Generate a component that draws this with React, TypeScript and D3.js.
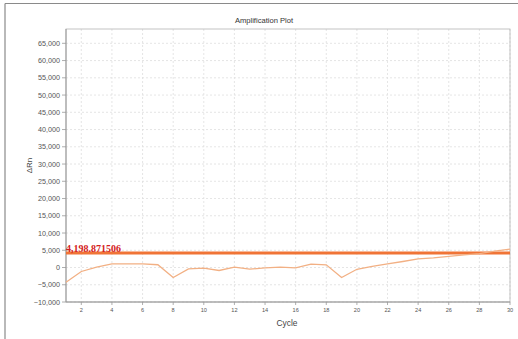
import React from 'react'
import * as d3 from 'd3'

// cycle numbers and ΔRn values
const cycles = [1, 2, 3, 4, 5, 6, 7, 8, 9, 10, 11, 12, 13, 14, 15, 16, 17, 18, 19, 20, 21, 22, 23, 24, 25, 26, 27, 28, 29, 30]
const deltaRn = [-4300, -1150, 100, 1050, 1050, 1050, 800, -2900, -400, -170, -870, 100, -480, -100, 100, -100, 970, 780, -2900, -520, 300, 1070, 1740, 2500, 2800, 3200, 3680, 4050, 4750, 5330]
const threshold = 4198.871506
const yTicks = [-10000, -5000, 0, 5000, 10000, 15000, 20000, 25000, 30000, 35000, 40000, 45000, 50000, 55000, 60000, 65000]
const xTicks = [2, 4, 6, 8, 10, 12, 14, 16, 18, 20, 22, 24, 26, 28, 30]

const W = 518
const H = 339
const margin = { left: 66, top: 29, right: 8, bottom: 37 }

const App: React.FC = () => {
  const x = d3.scaleLinear().domain([1, 30]).range([margin.left, W - margin.right])
  const y = d3.scaleLinear().domain([-10000, 69150]).range([H - margin.bottom, margin.top])
  const fmt = d3.format(',')

  const line = d3.line<number>()
    .x((_, i) => x(cycles[i]))
    .y(d => y(d))

  const x0 = x.range()[0], x1 = x.range()[1]
  const yb = y.range()[0], yt = y.range()[1]

  return (
    <svg width={W} height={H} style={{ position: 'absolute', left: 0, top: 0, background: '#fff' }}
      fontFamily="'Liberation Sans', Arial, sans-serif">
      {/* outer panel border */}
      <line x1={5} x2={W} y1={3.5} y2={3.5} stroke="#8a8a8a" strokeWidth={1.2} />
      <line x1={5} x2={5} y1={3.5} y2={H} stroke="#8a8a8a" strokeWidth={1.2} />

      <text x={264} y={23} textAnchor="middle" fontSize={7.6} fill="#333">Amplification Plot</text>

      {/* grid */}
      {yTicks.map(t => (
        <line key={'gy' + t} x1={x0} x2={x1} y1={y(t)} y2={y(t)} stroke="#dedede" strokeWidth={0.8} strokeDasharray="2,2" />
      ))}
      {xTicks.map(t => (
        <line key={'gx' + t} x1={x(t)} x2={x(t)} y1={yt} y2={yb} stroke="#dedede" strokeWidth={0.8} strokeDasharray="2,2" />
      ))}

      {/* frame */}
      <rect x={x0} y={yt} width={x1 - x0} height={yb - yt} fill="none" stroke="#b5b5b5" strokeWidth={0.8} />
      <line x1={x0} x2={x0} y1={yt} y2={yb} stroke="#999" strokeWidth={1} />
      <line x1={x0} x2={x1} y1={yb} y2={yb} stroke="#999" strokeWidth={1} />

      {/* y ticks */}
      {yTicks.map(t => (
        <g key={'ty' + t}>
          <line x1={x0 - 4} x2={x0} y1={y(t)} y2={y(t)} stroke="#999" strokeWidth={0.8} />
          <text x={x0 - 6} y={y(t)} dy="0.35em" textAnchor="end" fontSize={7.2} fill="#555">{fmt(t)}</text>
        </g>
      ))}
      {/* x ticks */}
      {xTicks.map(t => (
        <g key={'tx' + t}>
          <line x1={x(t)} x2={x(t)} y1={yb} y2={yb + 3} stroke="#999" strokeWidth={0.8} />
          <text x={x(t)} y={yb + 10} textAnchor="middle" fontSize={5.6} fill="#555">{t}</text>
        </g>
      ))}

      <text x={287} y={325.5} textAnchor="middle" fontSize={8.4} fill="#444">Cycle</text>
      <text transform={`translate(32, ${(yt + yb) / 2}) rotate(-90)`} textAnchor="middle" fontSize={8} fill="#444">ΔRn</text>

      {/* threshold */}
      <line x1={x0} x2={x1} y1={y(threshold)} y2={y(threshold)} stroke="#f07436" strokeWidth={3} />
      <text x={x0} y={y(threshold) - 1.5} fontFamily="'Liberation Serif', 'Times New Roman', serif" fontWeight="bold" fontSize={10} fill="#d42020">
        {d3.format(',.6f')(threshold)}
      </text>

      {/* amplification curve */}
      <path d={line(deltaRn) || ''} fill="none" stroke="#f2b084" strokeWidth={1.3} />
    </svg>
  )
}

export default App
